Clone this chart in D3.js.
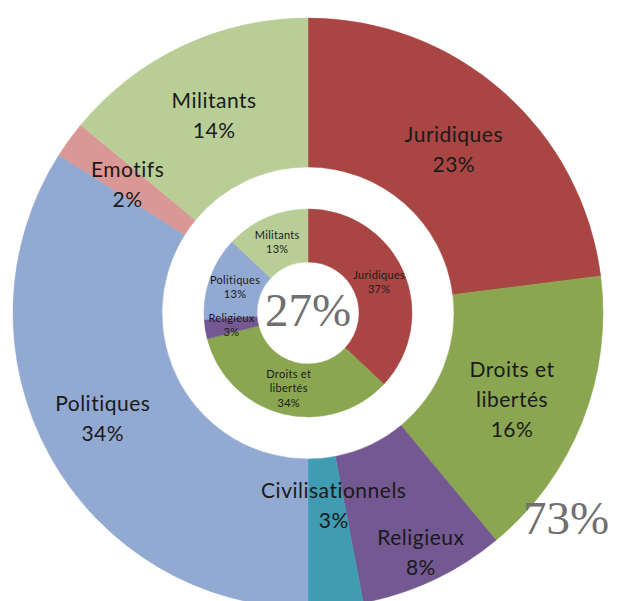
<!DOCTYPE html>
<html>
<head>
<meta charset="utf-8">
<script src="https://cdn.jsdelivr.net/npm/d3@7/dist/d3.min.js"></script>
<style>
  html, body { margin: 0; padding: 0; background: #ffffff; }
  svg { display: block; }
</style>
</head>
<body>
<svg id="chart" width="620" height="601"></svg>
<script>
// Outer ring: share of each argument type (%)
const outerCategories = ["Juridiques", "Droits et libertés", "Religieux", "Civilisationnels", "Politiques", "Emotifs", "Militants"];
const outerValues = [23, 16, 8, 3, 34, 2, 14];

// Inner ring: share of each argument type (%)
const innerCategories = ["Juridiques", "Droits et libertés", "Religieux", "Politiques", "Militants"];
const innerValues = [37, 34, 3, 13, 13];

// Totals written on each ring
const innerTotalLabel = "27%";
const outerTotalLabel = "73%";

const colorByCategory = {
  "Juridiques": "#A94644",
  "Droits et libertés": "#8BA651",
  "Religieux": "#735891",
  "Civilisationnels": "#3F9CB2",
  "Politiques": "#92A9D2",
  "Emotifs": "#D99795",
  "Militants": "#B9CE97"
};

// Label lines: category name split where it wraps, then the percentage
const labelLines = (name, v) => {
  const parts = name === "Droits et libertés" ? ["Droits et", "libertés"] : [name];
  return parts.concat([v + "%"]);
};

// Small shifts for outer labels that would otherwise crowd their neighbours
const outerLabelShift = {
  "Emotifs": [-2, 0],
  "Religieux": [19, 38],
  "Civilisationnels": [5, -29],
  "Politiques": [-12, -2],
  "Droits et libertés": [-1, 4]
};

const svg = d3.select("#chart");
const cx = 308, cy = 313;
const g = svg.append("g").attr("transform", `translate(${cx},${cy})`);

const pie = d3.pie().sort(null).value(d => d.value);

const outerData = outerCategories.map((c, i) => ({ category: c, value: outerValues[i] }));
const innerData = innerCategories.map((c, i) => ({ category: c, value: innerValues[i] }));

const outerArc = d3.arc().innerRadius(146).outerRadius(295);
const innerArc = d3.arc().innerRadius(51).outerRadius(104);

function drawRing(data, arc, cls) {
  const arcs = pie(data);
  g.append("g").attr("class", cls)
    .selectAll("path")
    .data(arcs)
    .join("path")
    .attr("d", arc)
    .attr("fill", d => colorByCategory[d.data.category])
    .attr("stroke", d => colorByCategory[d.data.category])
    .attr("stroke-width", 0.5);
  return arcs;
}

const outerArcs = drawRing(outerData, outerArc, "outer");
const innerArcs = drawRing(innerData, innerArc, "inner");

function drawLabels(arcs, arc, opts) {
  const lab = g.append("g")
    .attr("font-family", "Lato, 'Noto Sans', sans-serif")
    .attr("font-size", opts.size)
    .attr("letter-spacing", opts.spacing)
    .attr("fill", "#1a1a1a")
    .attr("text-anchor", "middle");
  arcs.forEach(d => {
    const [x0, y0] = arc.centroid(d);
    const shift = (opts.shift && opts.shift[d.data.category]) || [0, 0];
    const x = x0 + shift[0], y = y0 + shift[1];
    const lines = labelLines(d.data.category, d.data.value);
    const n = lines.length;
    lines.forEach((t, i) => {
      lab.append("text")
        .attr("x", x)
        .attr("y", y + (i - (n - 1) / 2) * opts.lineGap + opts.baseline)
        .text(t);
    });
  });
}

drawLabels(outerArcs, outerArc, { size: 21, spacing: 0.5, lineGap: 30, baseline: 9, shift: outerLabelShift });
drawLabels(innerArcs, innerArc, { size: 11, spacing: 0.3, lineGap: 14.5, baseline: 4 });

// Ring totals
g.append("text")
  .attr("x", 0).attr("y", 13)
  .attr("text-anchor", "middle")
  .attr("font-family", "'Liberation Serif', 'DejaVu Serif', serif")
  .attr("font-size", 47)
  .attr("fill", "#707070")
  .text(innerTotalLabel);

g.append("text")
  .attr("x", 258).attr("y", 221)
  .attr("text-anchor", "middle")
  .attr("font-family", "'Liberation Serif', 'DejaVu Serif', serif")
  .attr("font-size", 47)
  .attr("fill", "#707070")
  .text(outerTotalLabel);
</script>
</body>
</html>
